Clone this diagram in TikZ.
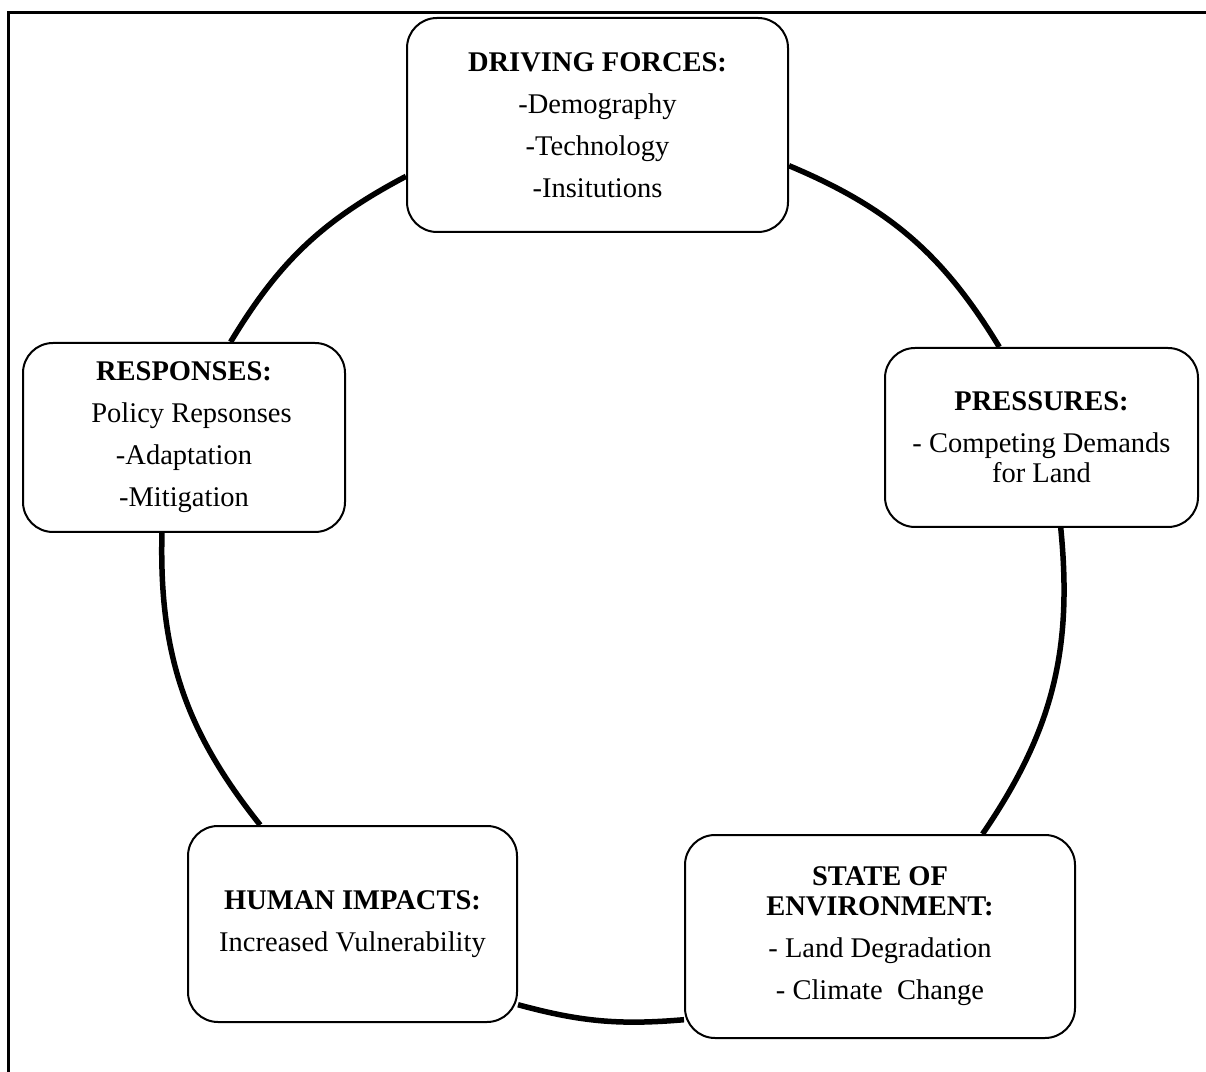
\documentclass[tikz,border=0pt]{standalone}
\usepackage{fontspec}
\setmainfont{Liberation Serif}
\begin{document}
\begin{tikzpicture}[x=1pt,y=1pt,
  stage/.style={draw, line width=2pt, rounded corners=30pt, inner sep=0pt,
    align=center, font=\fontsize{28.5}{30}\selectfont},
  link/.style={line width=5.5pt}]
\useasboundingbox (0,0) rectangle (1206,1071);
% outer frame (top and left edges)
\draw[line width=3pt] (8,-5) -- (8,1058) -- (1212,1058);

% the five stages of the cycle
\node[stage, minimum width=381pt, minimum height=214pt] (DF) at (597.5,946)
  {\textbf{DRIVING FORCES:}\\[12pt]-Demography\\[12pt]-Technology\\[12pt]-Insitutions};
\node[stage, minimum width=313pt, minimum height=179pt] (P) at (1041.5,633.5)
  {\textbf{PRESSURES:}\\[12pt]- Competing Demands\\for Land};
\node[stage, minimum width=390pt, minimum height=203pt] (S) at (880,134.5)
  {\textbf{STATE OF}\\\textbf{ENVIRONMENT:}\\[12pt]- Land Degradation\\[12pt]- Climate\ \ Change};
\node[stage, minimum width=329pt, minimum height=196pt] (H) at (352.5,147)
  {\textbf{HUMAN IMPACTS:}\\[12pt]Increased Vulnerability};
\node[stage, minimum width=322pt, minimum height=189pt] (R) at (184,633.5)
  {\textbf{RESPONSES:}\\[12pt]\hspace*{15pt}Policy Repsonses\\[12pt]-Adaptation\\[12pt]-Mitigation};

% arcs joining the stages
\draw[link] (R.64) to[bend left=15.5] (DF.195.4);
\draw[link] (DF.348.6) to[bend left=18] (P.115.7);
\draw[link] (P.282.5) to[bend left=20] (S.45.4);
\draw[link] (S.203.1) to[bend left=10] (H.334.9);
\draw[link] (H.133.3) to[bend left=20] (R.257.8);
\end{tikzpicture}
\end{document}
